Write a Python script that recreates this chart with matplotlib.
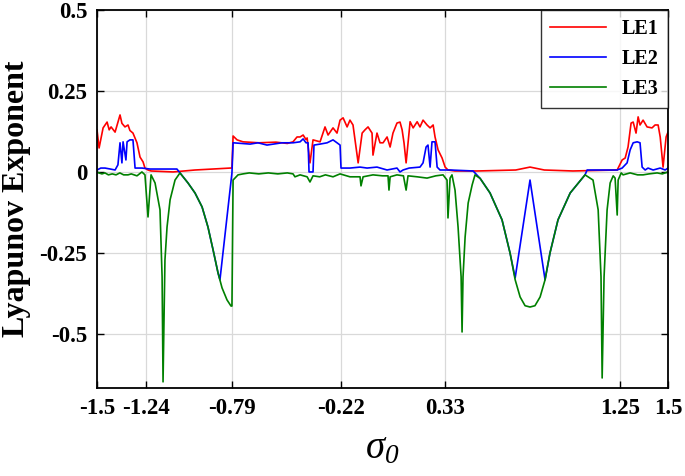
import matplotlib
matplotlib.use("Agg")
import matplotlib.pyplot as plt

plt.rcParams['font.family'] = ['Liberation Serif', 'DejaVu Serif']
plt.rcParams['mathtext.fontset'] = 'custom'
plt.rcParams['mathtext.it'] = 'Liberation Serif:italic'
plt.rcParams['mathtext.rm'] = 'Liberation Serif:italic'

# LE1 (red)
le1_x = [-1.5, -1.489, -1.468, -1.447, -1.436, -1.426, -1.405, -1.379, -1.369, -1.353,
         -1.337, -1.327, -1.311, -1.290, -1.274, -1.258, -1.248, -1.232, -1.216, -1.100,
         -0.985, -0.800, -0.791, -0.785, -0.764, -0.733, -0.650, -0.560, -0.500, -0.470,
         -0.449, -0.433, -0.417, -0.402, -0.396, -0.381, -0.365, -0.328, -0.302, -0.286,
         -0.260, -0.239, -0.223, -0.207, -0.186, -0.171, -0.155, -0.128, -0.107, -0.092,
         -0.076, -0.055, -0.050, -0.029, -0.013, 0.003, 0.024, 0.040, 0.055, 0.076,
         0.092, 0.103, 0.113, 0.124, 0.145, 0.161, 0.182, 0.197, 0.213, 0.234,
         0.250, 0.266, 0.276, 0.292, 0.313, 0.329, 0.344, 0.380, 0.500, 0.700,
         0.775, 0.850, 1.000, 1.233, 1.259, 1.275, 1.290, 1.306, 1.317, 1.332,
         1.343, 1.353, 1.369, 1.390, 1.416, 1.432, 1.448, 1.459, 1.474, 1.490, 1.500]
le1_y = [0.130, 0.074, 0.136, 0.154, 0.130, 0.139, 0.123, 0.176, 0.150, 0.139,
         0.145, 0.128, 0.120, 0.090, 0.046, 0.031, 0.012, 0.006, 0.003, 0.000,
         0.006, 0.012, 0.012, 0.111, 0.099, 0.093, 0.090, 0.092, 0.088, 0.093,
         0.108, 0.108, 0.114, 0.100, 0.105, 0.028, 0.099, 0.093, 0.139, 0.114,
         0.136, 0.120, 0.160, 0.167, 0.139, 0.160, 0.145, 0.028, 0.120, 0.130,
         0.139, 0.120, 0.052, 0.120, 0.090, 0.090, 0.108, 0.077, 0.120, 0.151,
         0.154, 0.130, 0.090, 0.028, 0.155, 0.136, 0.155, 0.139, 0.160, 0.145,
         0.136, 0.145, 0.108, 0.068, 0.043, 0.015, 0.006, 0.003, 0.003, 0.006,
         0.015, 0.006, 0.003, 0.006, 0.037, 0.043, 0.077, 0.151, 0.154, 0.120,
         0.170, 0.145, 0.160, 0.139, 0.136, 0.145, 0.145, 0.108, 0.015, 0.108, 0.123]

# LE2 (blue)
le2_x = [-1.5, -1.480, -1.458, -1.430, -1.405, -1.390, -1.379, -1.369, -1.363, -1.348,
         -1.342, -1.327, -1.311, -1.300, -1.264, -1.221, -1.080, -1.064, -1.022, -0.985,
         -0.948, -0.917, -0.890, -0.864, -0.854, -0.791, -0.785, -0.696, -0.654, -0.607,
         -0.528, -0.470, -0.433, -0.417, -0.402, -0.391, -0.386, -0.365, -0.360, -0.328,
         -0.291, -0.260, -0.239, -0.223, -0.218, -0.171, -0.118, -0.081, -0.029, 0.024,
         0.076, 0.092, 0.108, 0.140, 0.197, 0.213, 0.229, 0.239, 0.250, 0.260,
         0.276, 0.287, 0.302, 0.355, 0.476, 0.513, 0.565, 0.628, 0.670, 0.697,
         0.775, 0.854, 0.880, 0.922, 0.986, 1.064, 1.075, 1.233, 1.259, 1.285,
         1.301, 1.317, 1.338, 1.353, 1.364, 1.380, 1.395, 1.422, 1.459, 1.485, 1.500]
le2_y = [0.006, 0.012, 0.012, 0.009, 0.006, 0.022, 0.090, 0.028, 0.093, 0.037,
         0.093, 0.099, 0.099, 0.012, 0.012, 0.009, 0.009, -0.003, -0.034, -0.065,
         -0.108, -0.170, -0.241, -0.312, -0.333, -0.003, 0.090, 0.086, 0.090, 0.083,
         0.090, 0.090, 0.093, 0.102, 0.090, 0.090, 0.000, 0.000, 0.083, 0.086,
         0.090, 0.099, 0.090, 0.083, 0.012, 0.012, 0.015, 0.012, 0.015, 0.006,
         0.012, 0.000, 0.006, 0.012, 0.015, 0.028, 0.077, 0.083, 0.015, 0.093,
         0.093, 0.015, 0.006, 0.006, 0.003, -0.020, -0.065, -0.148, -0.250, -0.327,
         -0.025, -0.333, -0.250, -0.148, -0.065, -0.009, 0.006, 0.006, 0.012, 0.028,
         0.068, 0.090, 0.093, 0.090, 0.015, 0.006, 0.012, 0.006, 0.012, 0.006, 0.012]

# LE3 (green)
le3_x = [-1.5, -1.490, -1.474, -1.458, -1.440, -1.420, -1.400, -1.380, -1.360, -1.337,
         -1.320, -1.290, -1.264, -1.248, -1.232, -1.216, -1.195, -1.169, -1.158, -1.153,
         -1.143, -1.132, -1.116, -1.090, -1.064, -1.022, -0.985, -0.948, -0.917, -0.890,
         -0.864, -0.843, -0.817, -0.796, -0.791, -0.785, -0.759, -0.733, -0.700, -0.650,
         -0.600, -0.550, -0.500, -0.470, -0.460, -0.433, -0.396, -0.381, -0.365, -0.330,
         -0.300, -0.260, -0.223, -0.171, -0.118, -0.113, -0.102, -0.050, 0.000, 0.029,
         0.034, 0.040, 0.076, 0.110, 0.124, 0.134, 0.182, 0.234, 0.280, 0.318,
         0.339, 0.344, 0.355, 0.365, 0.381, 0.397, 0.413, 0.418, 0.423, 0.434,
         0.450, 0.471, 0.486, 0.513, 0.565, 0.628, 0.670, 0.697, 0.723, 0.749,
         0.775, 0.801, 0.828, 0.854, 0.880, 0.922, 0.986, 1.064, 1.106, 1.133,
         1.148, 1.154, 1.164, 1.180, 1.196, 1.212, 1.222, 1.233, 1.238, 1.254,
         1.264, 1.301, 1.340, 1.369, 1.400, 1.443, 1.470, 1.500]
le3_y = [0.000, -0.003, -0.006, -0.003, -0.009, -0.006, -0.009, -0.003, -0.009, -0.009,
         -0.006, -0.012, 0.000, -0.009, -0.139, -0.009, -0.034, -0.117, -0.324, -0.648,
         -0.272, -0.170, -0.086, -0.025, -0.003, -0.034, -0.065, -0.108, -0.170, -0.241,
         -0.312, -0.358, -0.395, -0.414, -0.414, -0.025, -0.009, -0.006, -0.003, -0.006,
         -0.003, -0.006, -0.003, -0.006, -0.015, -0.009, -0.015, -0.031, -0.012, -0.015,
         -0.009, -0.015, -0.006, -0.015, -0.015, -0.043, -0.015, -0.009, -0.012, -0.012,
         -0.056, -0.015, -0.009, -0.012, -0.056, -0.012, -0.015, -0.019, -0.012, -0.009,
         -0.025, -0.142, -0.019, -0.009, -0.056, -0.170, -0.324, -0.494, -0.324, -0.201,
         -0.096, -0.040, -0.009, -0.020, -0.065, -0.148, -0.250, -0.333, -0.386, -0.413,
         -0.417, -0.413, -0.386, -0.333, -0.250, -0.148, -0.065, -0.009, -0.025, -0.117,
         -0.324, -0.636, -0.324, -0.117, -0.034, -0.012, -0.019, -0.133, -0.025, -0.003,
         -0.009, -0.003, -0.009, -0.009, -0.006, -0.003, -0.006, 0.000]

xticks = [-1.5, -1.24, -0.79, -0.22, 0.33, 1.25, 1.5]
xticklabels = ['-1.5', '-1.24', '-0.79', '-0.22', '0.33', '1.25', '1.5']
yticks = [-0.5, -0.25, 0, 0.25, 0.5]
yticklabels = ['-0.5', '-0.25', '0', '0.25', '0.5']

fig = plt.figure(figsize=(6.85, 4.76), dpi=100)
ax = fig.add_axes([0.1416, 0.1849, 0.8336, 0.7941])

ax.plot(le1_x, le1_y, color='#ff0000', lw=1.2, label='LE1')
ax.plot(le2_x, le2_y, color='#0000ff', lw=1.2, label='LE2')
ax.plot(le3_x, le3_y, color='#008000', lw=1.2, label='LE3')

ax.set_xlim(-1.5, 1.5)
ax.set_ylim(-0.667, 0.5)
ax.set_xticks(xticks)
ax.set_xticklabels(xticklabels, fontsize=16.5, fontweight='bold')
ax.set_yticks(yticks)
ax.set_yticklabels(yticklabels, fontsize=16.5, fontweight='bold')
ax.tick_params(direction='in', top=True, right=True, length=5, width=1, pad=7)
ax.grid(True, color='#d9d9d9', lw=0.9)
ax.set_axisbelow(True)
for s in ax.spines.values():
    s.set_linewidth(1.3)

ax.set_ylabel('Lyapunov Exponent', fontsize=23, fontweight='bold', labelpad=6)
ax.set_xlabel(r'$\sigma_{0}$', fontsize=28, labelpad=8)

leg = ax.legend(loc='upper right', prop={'weight': 'bold', 'size': 14.5},
                frameon=True, fancybox=False, edgecolor='black', borderaxespad=0,
                handlelength=2.8, labelspacing=0.5, borderpad=0.45)
leg.get_frame().set_linewidth(1.0)

fig.savefig('out.png', dpi=100)
